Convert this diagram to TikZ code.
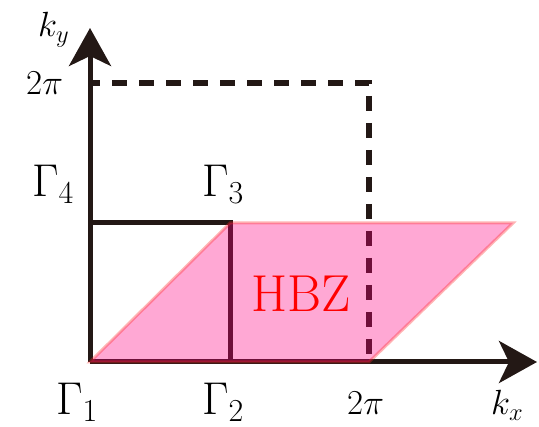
\RequirePackage{fix-cm}
\documentclass[tikz,border=0pt]{standalone}
\usetikzlibrary{arrows.meta}
\DeclareMathSizes{46}{46}{32}{23}
\DeclareMathSizes{35}{35}{24.5}{17.5}
\definecolor{axcol}{RGB}{35,24,21}
\definecolor{hbzfill}{RGB}{255,0,128}
\definecolor{hbzedge}{RGB}{255,40,40}
\begin{document}
\begin{tikzpicture}[x=1pt,y=1pt,
  axis/.style={line width=5pt,color=axcol,-{Stealth[length=38pt 0,width=42pt 0,inset=10pt 0]}},
  solidline/.style={line width=5pt,color=axcol},
  dashline/.style={line width=5.5pt,color=axcol,dash pattern=on 15pt off 12pt,dash phase=5pt},
  hbz/.style={fill=hbzfill,fill opacity=0.34,draw=hbzedge,draw opacity=0.35,line width=3pt},
  biglab/.style={anchor=base west,inner sep=0pt,font=\fontsize{46}{50}\selectfont},
  smalllab/.style={anchor=base west,inner sep=0pt,font=\fontsize{35}{40}\selectfont},
  hbzlab/.style={anchor=base west,inner sep=0pt,text=red,font=\fontsize{52}{56}\selectfont}]
\useasboundingbox (0,0) rectangle (539,427);
% image coords: (x, 427-y)
\coordinate (O) at (90,65);
\coordinate (xend) at (537,65);
\coordinate (yend) at (90,399);
\coordinate (G4) at (90,204);
\coordinate (G3) at (230,204);
\coordinate (G2) at (230,65);
\coordinate (Ty) at (90,344);
\coordinate (Tc) at (369,344);
\coordinate (Tx) at (369,65);
\coordinate (P3) at (513,204);
% dashed 2pi box
\draw[dashline] (Ty) -- (Tc) -- (Tx);
% square
\draw[solidline] (G4) -- (G3) -- (G2);
% axes
\draw[axis] (O) -- (xend);
\draw[axis] (O) -- (yend);
% HBZ parallelogram
\draw[hbz] (O) -- (G3) -- (P3) -- (Tx) -- cycle;
% labels
\node[smalllab] (ky) at (38,390) {$k_y$};
\node[smalllab] (tpy) at (26,332) {$2\pi$};
\node[biglab] (l4) at (32,230) {$\Gamma_4$};
\node[biglab] (l3) at (202,230) {$\Gamma_3$};
\node[hbzlab] (lh) at (251,115) {HBZ};
\node[biglab] (l1) at (56,12) {$\Gamma_1$};
\node[biglab] (l2) at (202,12) {$\Gamma_2$};
\node[smalllab] (tpx) at (347,12) {$2\pi$};
\node[smalllab] (kx) at (491,12) {$k_x$};
\end{tikzpicture}
\end{document}
